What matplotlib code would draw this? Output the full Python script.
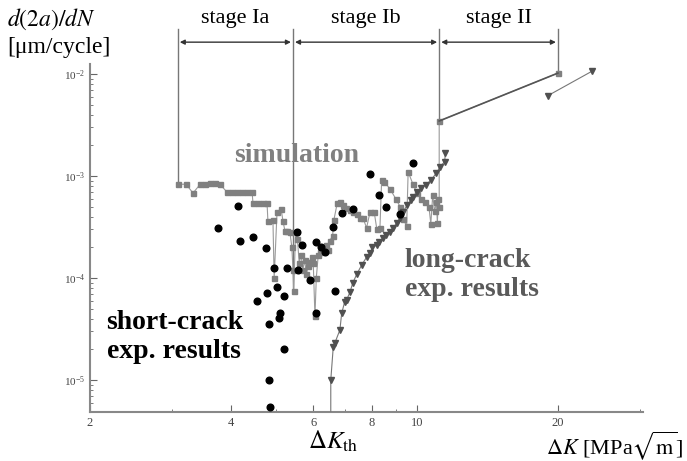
import numpy as np
import matplotlib
matplotlib.use("Agg")
import matplotlib.pyplot as plt
from matplotlib.transforms import blended_transform_factory

plt.rcParams['font.family'] = ['Liberation Serif', 'DejaVu Serif']
plt.rcParams['mathtext.fontset'] = 'stix'

# ----------------------------
# data
# ----------------------------
# simulation (grey squares)
sim_x = [3.08, 3.21, 3.32, 3.44, 3.53, 3.61, 3.70, 3.79, 3.92, 4.02, 4.12, 4.23,
         4.34, 4.44, 4.46, 4.57, 4.68, 4.78, 4.80, 4.92, 4.95, 5.02, 5.12, 5.17,
         5.22, 5.28, 5.35, 5.40, 5.43, 5.45, 5.50, 5.55, 5.60, 5.65, 5.70, 5.75,
         5.80, 5.85, 5.90, 5.95, 6.00, 6.05, 6.09, 6.15, 6.20, 6.29, 6.40, 6.45,
         6.50, 6.60, 6.64, 6.75, 6.85, 6.95, 7.05, 7.19, 7.30, 7.44, 7.55, 7.66,
         7.80, 7.93, 8.10, 8.20, 8.33, 8.40, 8.50, 8.75, 9.00, 9.20, 9.35, 9.50,
         9.57, 9.80, 10.0, 10.2, 10.4, 10.6, 10.7, 10.8, 10.9, 11.0, 11.05, 11.1,
         11.15, 11.15, 20.0]
sim_y = [8.3e-4, 8.3e-4, 6.8e-4, 8.3e-4, 8.3e-4, 8.5e-4, 8.5e-4, 8.3e-4, 7.0e-4,
         7.0e-4, 7.0e-4, 7.0e-4, 7.0e-4, 7.0e-4, 5.4e-4, 5.4e-4, 5.4e-4, 5.4e-4,
         3.6e-4, 3.7e-4, 1.0e-4, 4.4e-4, 4.8e-4, 3.6e-4, 2.9e-4, 2.9e-4, 2.8e-4,
         2.0e-4, 1.2e-4, 7.5e-5, 2.8e-4, 2.4e-4, 1.4e-4, 1.7e-4, 1.2e-4, 1.5e-4,
         1.1e-4, 1.3e-4, 1.45e-4, 1.6e-4, 1.4e-4, 4.2e-5, 1.0e-4, 1.7e-4, 1.8e-4,
         1.9e-4, 2.1e-4, 1.9e-4, 2.3e-4, 2.6e-4, 3.7e-4, 5.4e-4, 5.6e-4, 5.2e-4,
         4.9e-4, 4.65e-4, 4.4e-4, 4.2e-4, 3.9e-4, 3.9e-4, 3.1e-4, 4.4e-4, 4.4e-4,
         3.05e-4, 3.1e-4, 9.1e-4, 8.8e-4, 7.5e-4, 6.0e-4, 5.0e-4, 3.8e-4, 3.2e-4,
         1.1e-3, 8.3e-4, 6.8e-4, 6.0e-4, 5.5e-4, 5.0e-4, 3.4e-4, 6.5e-4, 4.5e-4,
         5.5e-4, 3.5e-4, 6.0e-4, 5.0e-4, 3.46e-3, 1.02e-2]

# short-crack experiments (black circles)
short_x = [4.14, 3.75, 4.19, 4.46, 4.75, 4.95, 5.28, 5.54, 5.67, 5.56, 6.07, 6.23,
           6.36, 5.90, 5.02, 4.78, 4.55, 5.20, 6.61, 6.68, 6.09, 5.10, 5.07, 4.82,
           5.20, 4.82, 4.84, 6.90, 7.30, 8.30, 7.93, 8.60, 9.20, 9.80]
short_y = [5.1e-4, 3.1e-4, 2.3e-4, 2.5e-4, 1.95e-4, 1.25e-4, 1.25e-4, 2.8e-4,
           2.1e-4, 1.2e-4, 2.25e-4, 2.0e-4, 1.8e-4, 9.5e-5, 8.2e-5, 7.1e-5, 6.0e-5,
           6.7e-5, 3.15e-4, 7.5e-5, 4.5e-5, 4.5e-5, 4.1e-5, 3.55e-5, 2.0e-5, 1.0e-5,
           5.5e-6, 4.3e-4, 4.75e-4, 6.5e-4, 1.05e-3, 5.0e-4, 4.2e-4, 1.35e-3]

# long-crack experiments (dark triangles)
long_x = [6.54, 6.54, 6.62, 6.67, 6.84, 6.90, 7.00, 7.07, 7.19, 7.29, 7.44, 7.62,
          7.80, 7.93, 8.03, 8.20, 8.30, 8.45, 8.60, 8.74, 8.90, 9.05, 9.20, 9.33,
          9.52, 9.70, 9.80, 10.0, 10.2, 10.45, 10.7, 11.0, 11.2, 11.45, 11.5]
long_y = [3.0e-6, 1.0e-5, 2.1e-5, 2.3e-5, 3.1e-5, 4.5e-5, 5.8e-5, 6.1e-5, 7.3e-5,
          9.0e-5, 1.1e-4, 1.35e-4, 1.6e-4, 1.75e-4, 2.0e-4, 2.1e-4, 2.25e-4,
          2.45e-4, 2.65e-4, 2.8e-4, 3.1e-4, 3.5e-4, 3.9e-4, 4.4e-4, 5.2e-4, 5.8e-4,
          6.2e-4, 7.0e-4, 7.6e-4, 8.2e-4, 9.1e-4, 1.07e-3, 1.23e-3, 1.38e-3, 1.68e-3]
long2_x = [19.0, 23.7]
long2_y = [6.1e-3, 1.07e-2]

# stage boundaries (Delta K) and where the guide lines end
stage_x = [3.08, 5.43, 11.15, 20.0]
stage_end_y = [8.3e-4, 7.5e-5, 3.46e-3, 1.02e-2]
stage_names = ["stage Ia", "stage Ib", "stage II"]

x_ticks = [2, 4, 6, 8, 10, 20]
x_minor = [3, 5, 7, 9, 30]

# ----------------------------
# figure
# ----------------------------
fig = plt.figure(figsize=(6.87, 4.61), dpi=100)
ax = fig.add_axes([0.131, 0.106, 0.805, 0.755])
ax.set_xscale('log')
ax.set_yscale('log')
ylo, yhi = 4.85e-6, 1.25e-2
ax.set_xlim(2, 30.4)
ax.set_ylim(ylo, yhi)

# simulation
ax.plot(sim_x, sim_y, color='#9a9a9a', lw=0.8, marker='s', ms=3.6,
        mfc='#808080', mec='#808080', zorder=3)
ax.plot(sim_x[-2:], sim_y[-2:], color='#555555', lw=1.2, zorder=3)

# long crack
ax.plot(long_x, long_y, color='#777777', lw=0.8, marker='v', ms=5,
        mfc='#505050', mec='#505050', markevery=list(range(1, len(long_x))),
        zorder=4)
ax.plot(long2_x, long2_y, color='#777777', lw=0.8, marker='v', ms=5,
        mfc='#505050', mec='#505050', zorder=4)

# short crack
ax.plot(short_x, short_y, 'o', color='black', ms=4.8, zorder=5, clip_on=False)

# stage guide lines and arrows
ly0, ly1 = np.log10(ylo), np.log10(yhi)
def axes_to_y(frac):
    return 10 ** (ly0 + frac * (ly1 - ly0))

for sx, ey in zip(stage_x, stage_end_y):
    ax.plot([sx, sx], [ey, axes_to_y(1.101)], color='#777777', lw=1.0,
            clip_on=False, zorder=2)

trans = blended_transform_factory(ax.transData, ax.transAxes)
for i, name in enumerate(stage_names):
    x1, x2 = stage_x[i], stage_x[i + 1]
    ax.annotate('', xy=(x2 * 0.99, 1.063), xytext=(x1 * 1.01, 1.063),
                xycoords=trans, textcoords=trans,
                arrowprops=dict(arrowstyle='<|-|>', color='#333333', lw=1.0,
                                mutation_scale=7, shrinkA=0, shrinkB=0))
    ax.text(np.sqrt(x1 * x2), 1.13, name, transform=trans, ha='center',
            va='center', fontsize=16)

# labels in plot
ax.text(5.54, 1.6e-3, "simulation", color='#808080', fontsize=20,
        fontweight='bold', ha='center', va='center')
ax.text(2.17, 2.65e-5, "short-crack\nexp. results", color='black', fontsize=20,
        fontweight='bold', ha='left', va='center')
ax.text(9.4, 1.07e-4, "long-crack\nexp. results", color='#5a5a5a', fontsize=20,
        fontweight='bold', ha='left', va='center')
ax.text(6.6, -0.085, r"$\Delta K_{\rm th}$", transform=trans, ha='center',
        va='center', fontsize=18)

# axis labels
fig.text(0.010, 1 - 19 / 461, r"$d(2a)/dN$", fontsize=17, ha='left', va='center')
fig.text(0.010, 1 - 48 / 461, "[\u03bcm/cycle]", fontsize=17, ha='left',
         va='center')
fig.text(0.995, 1 - 446 / 461, r"$\Delta K$ [MPa$\sqrt{\rm m}$]", fontsize=16,
         ha='right', va='center')

# axes styling
for side in ['top', 'right']:
    ax.spines[side].set_visible(False)
for side in ['left', 'bottom']:
    ax.spines[side].set_color('#888888')
    ax.spines[side].set_linewidth(1.5)

ax.set_xticks(x_ticks)
ax.set_xticklabels([str(t) for t in x_ticks])
ax.set_xticks(x_minor, minor=True)
ax.set_xticklabels([], minor=True)
ax.set_yticks([1e-5, 1e-4, 1e-3, 1e-2])
ax.tick_params(which='both', direction='in', color='#666666', labelcolor='#444444')
ax.tick_params(which='major', length=5, labelsize=9)
ax.tick_params(which='minor', length=2.5)
ax.tick_params(axis='y', labelsize=8)

fig.savefig("out.png", dpi=100)
